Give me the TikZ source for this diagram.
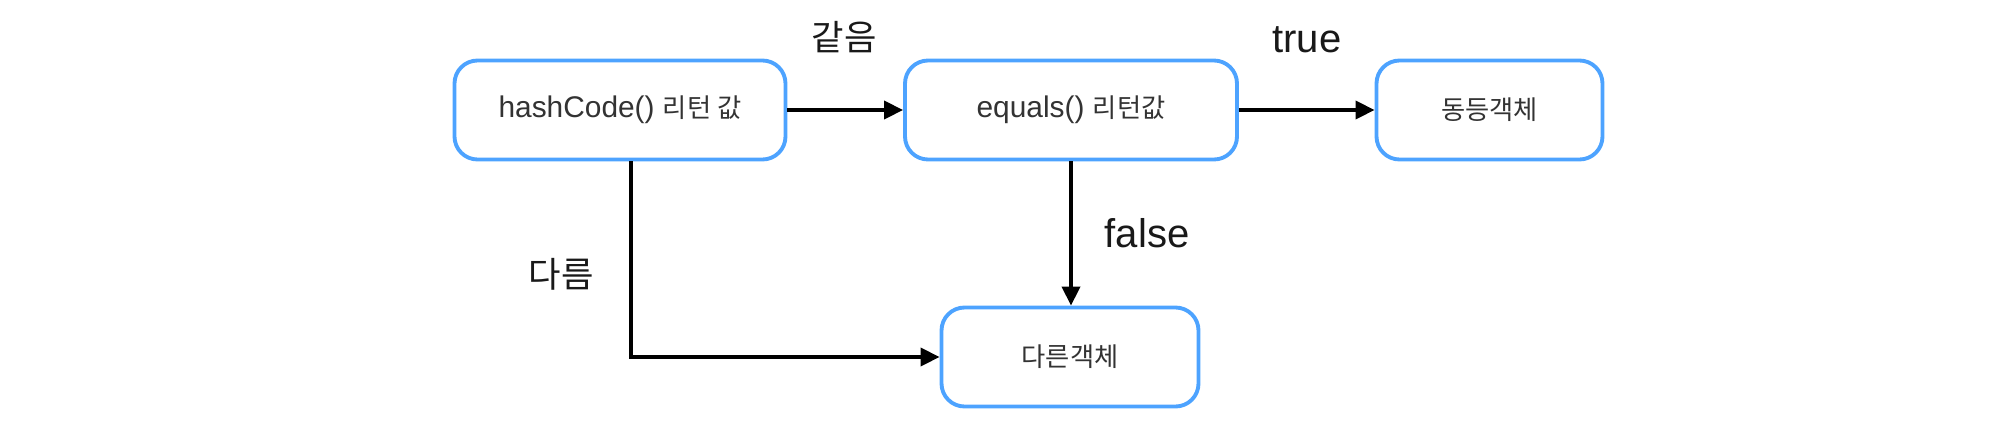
\documentclass[tikz,border=0pt]{standalone}
\usepackage{fontspec}
\setmainfont{Liberation Sans}
\newfontfamily\kr[Scale=0.88]{Noto Sans CJK KR}
\usetikzlibrary{positioning,calc}
\usetikzlibrary{arrows.meta}
\definecolor{BoxBlue}{RGB}{77,163,255}
\definecolor{TextGray}{RGB}{51,51,51}
\tikzset{
  box/.style={draw=BoxBlue,line width=1.1pt,fill=white,rounded corners=0.23cm,
    minimum height=0.99cm,inner sep=0pt,font=\fontsize{8.5}{10}\selectfont,text=TextGray},
  flow/.style={draw=black,line width=1.1pt,-{Triangle[length=0.19cm,width=0.18cm]}},
}
\tikzset{cond/.style={inner sep=0pt,font=\fontsize{11.4}{13}\selectfont,text=black!90}}

\begin{document}
\begin{tikzpicture}[scale=1]
\useasboundingbox (0,0) rectangle (20,-4.27);
\node[box,minimum width=3.31cm] (hash) at (6.20,-1.10) {hashCode() {\kr 리턴 값}};
\node[box,minimum width=3.32cm] (eq) at (10.71,-1.10) {equals() {\kr 리턴값}};
\node[box,minimum width=2.26cm] (same) at (14.895,-1.10) {\kr 동등객체};
\node[box,minimum width=2.57cm] (diff) at (10.70,-3.57) {\kr 다른객체};
\coordinate (corner) at (6.31,-3.57);
\draw[flow] (hash) -- (eq);
\draw[flow] (eq) -- (same);
\draw[flow] (eq.south) -- (eq.south |- diff.north);
\draw[flow] (hash.south -| corner) |- (diff.west);
\node[cond] (samelab) at (8.44,-0.37) {\kr 같음};
\node[cond] (truelab) at (13.07,-0.40) {true};
\node[cond] (falselab) at (11.47,-2.33) {false};
\node[cond] (difflab) at (5.61,-2.74) {\kr 다름};
\end{tikzpicture}
\end{document}
